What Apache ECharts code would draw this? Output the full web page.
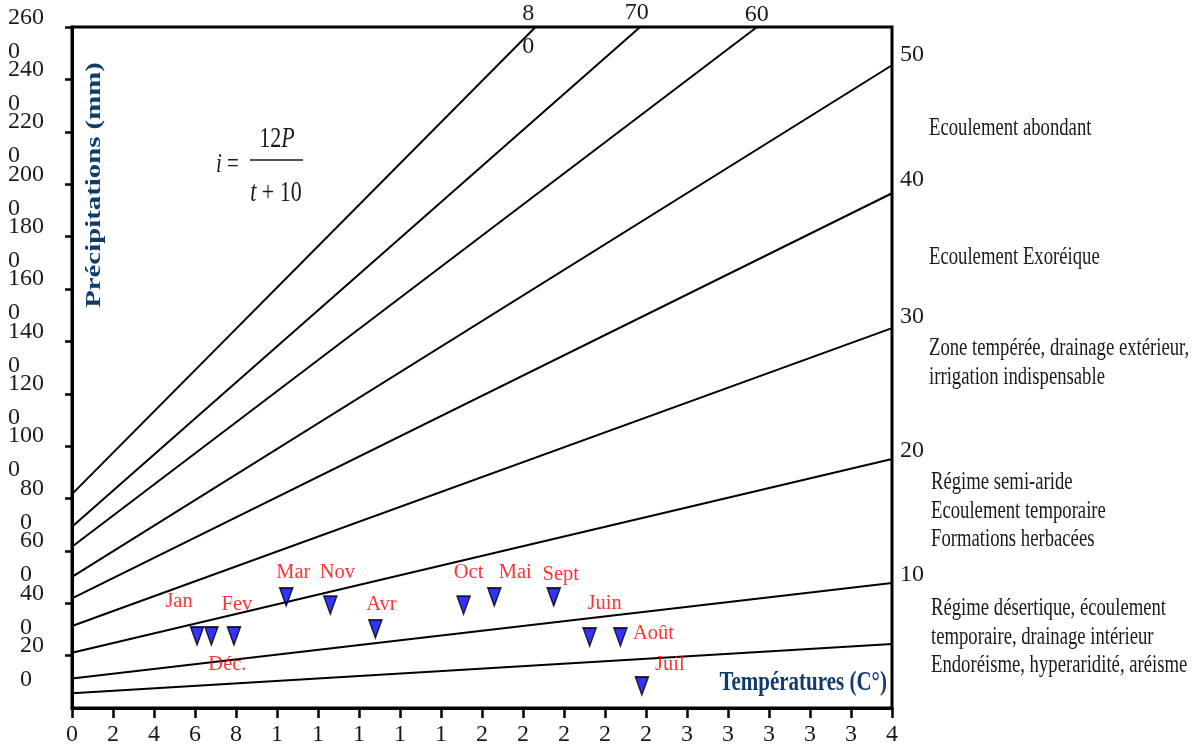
<!DOCTYPE html>
<html>
<head>
<meta charset="utf-8">
<script src="https://cdn.jsdelivr.net/npm/echarts@6.0.0/dist/echarts.min.js"></script>
<style>
html,body{margin:0;padding:0;background:#ffffff;}
#chart{width:1193px;height:751px;}
</style>
</head>
<body>
<div id="chart"></div>
<script>
// ---------- data ----------
const monthNames   = ['Jan', 'Fev', 'Mar', 'Avr', 'Mai', 'Juin', 'Juil', 'Août', 'Sept', 'Oct', 'Nov', 'Déc.'];
const monthTemp    = [6.1, 7.9, 10.45, 14.8, 20.6, 25.25, 27.8, 26.75, 23.5, 19.1, 12.6, 6.8];
const monthPrecip  = [275, 275, 424, 302, 424, 271, 84, 271, 424, 393, 393, 275];

// iso-lines of the index i = 12P/(t+10): start (t = 0) and end points
const isoIndex     = [5, 10, 20, 30, 40, 50, 60, 70, 80];
const isoStartP    = [56, 113, 211, 313, 419, 501, 616, 692, 817];
const isoEndT      = [40, 40, 40, 40, 40, 40, 33.4, 27.7, 22.6];
const isoEndP      = [244, 477, 951, 1451, 1966, 2455, 2600, 2600, 2600];
const isoLabels    = ['', '10', '20', '30', '40', '50', '60', '70', '8\n0'];

const xTickLabels  = ['0','2','4','6','8','1','1','1','1','1','2','2','2','2','2','3','3','3','3','3','4'];
const yTickLabels  = ['', '20\n0', '40\n0', '60\n0', '80\n0', '100\n0', '120\n0', '140\n0', '160\n0', '180\n0', '200\n0', '220\n0', '240\n0', '260\n0'];

const zoneTexts = [
  ['Ecoulement abondant'],
  ['Ecoulement Exoréique'],
  ['Zone tempérée, drainage extérieur,', 'irrigation indispensable'],
  ['Régime semi-aride', 'Ecoulement temporaire', 'Formations herbacées'],
  ['Régime désertique, écoulement', 'temporaire, drainage intérieur', 'Endoréisme, hyperaridité, aréisme']
];
const yTitle = 'Précipitations (mm)';
const xTitle = 'Températures (C°)';

// ---------- layout / style (not data) ----------
const FONT = "'Liberation Serif', 'Times New Roman', serif";
const monthLabelOffsets = [[-18,-34],[3,-31],[7,-24],[6,-24],[21,-24],[15,-33],[28,-21],[33,-3],[7,-22],[5,-32],[7,-32],[16,29]];
const isoLabelOffsets = [[20,-10],[20,-8],[20,-8],[20,-11],[20,-14],[20,-11],[0,-13],[-3,-15],[-7,3]];
const zoneTop = [[929,129],[929,258],[929,349],[931,483],[931,609]];
const zoneLineGap = 28.5;

const chart = echarts.init(document.getElementById('chart'), null, {renderer: 'canvas'});

const series = [];
isoIndex.forEach((idx, k) => {
  series.push({
    type: 'line',
    name: 'i=' + idx,
    silent: true,
    animation: false,
    symbol: 'circle',
    symbolSize: 1,
    showSymbol: true,
    clip: true,
    lineStyle: {color: '#000', width: 2},
    itemStyle: {color: '#000'},
    z: 2,
    data: [
      {value: [0, isoStartP[k]], label: {show: false}},
      {value: [isoEndT[k], isoEndP[k]], label: {
        show: isoLabels[k] !== '',
        formatter: isoLabels[k],
        position: 'inside',
        offset: isoLabelOffsets[k],
        color: '#1a1a1a',
        fontFamily: FONT,
        fontSize: 24,
        lineHeight: 33
      }}
    ]
  });
});

series.push({
  type: 'scatter',
  name: 'mois',
  animation: false,
  symbol: 'triangle',
  symbolRotate: 180,
  symbolSize: [13, 18],
  itemStyle: {color: '#0000ff', borderColor: '#000', borderWidth: 1.6},
  z: 5,
  label: {
    show: true,
    formatter: '{b}',
    position: 'inside',
    color: '#ff0000',
    fontFamily: FONT,
    fontSize: 20.5
  },
  data: monthNames.map((m, k) => ({
    name: m,
    value: [monthTemp[k], monthPrecip[k]],
    label: {offset: monthLabelOffsets[k]}
  }))
});

const graphics = [];
zoneTexts.forEach((lines, b) => {
  lines.forEach((line, j) => {
    graphics.push({
      type: 'text',
      x: zoneTop[b][0],
      y: zoneTop[b][1] + j * zoneLineGap,
      scaleY: 1.32,
      style: {
        text: line,
        fill: '#1a1a1a',
        fontFamily: FONT,
        fontSize: 18.7,
        align: 'left', textAlign: 'left',
        verticalAlign: 'middle', textVerticalAlign: 'middle'
      }
    });
  });
});
// axis titles
graphics.push({
  type: 'text', x: 94, y: 185, rotation: Math.PI / 2, scaleX: 1.34,
  style: {text: yTitle, fill: '#103b6c', fontFamily: FONT, fontWeight: 'bold', fontSize: 21.5,
    align: 'center', textAlign: 'center', verticalAlign: 'middle', textVerticalAlign: 'middle'}
});
graphics.push({
  type: 'text', x: 887, y: 683, scaleY: 1.3,
  style: {text: xTitle, fill: '#103b6c', fontFamily: FONT, fontWeight: 'bold', fontSize: 21,
    align: 'right', textAlign: 'right', verticalAlign: 'middle', textVerticalAlign: 'middle'}
});
// formula i = 12P / (t + 10)
graphics.push({
  type: 'text', x: 216, y: 165, scaleY: 1.3,
  style: {text: '{v|i}{n| =}', fill: '#1a1a1a', align: 'left', textAlign: 'left', verticalAlign: 'middle', textVerticalAlign: 'middle',
    rich: {v: {fontFamily: FONT, fontStyle: 'italic', fontSize: 21, fill: '#1a1a1a'}, n: {fontFamily: FONT, fontSize: 21, fill: '#1a1a1a'}}}
});
graphics.push({
  type: 'text', x: 277, y: 139, scaleY: 1.3,
  style: {text: '{n|12}{v|P}', fill: '#1a1a1a', align: 'center', textAlign: 'center', verticalAlign: 'middle', textVerticalAlign: 'middle',
    rich: {v: {fontFamily: FONT, fontStyle: 'italic', fontSize: 22, fill: '#1a1a1a'}, n: {fontFamily: FONT, fontSize: 22, fill: '#1a1a1a'}}}
});
graphics.push({
  type: 'line', shape: {x1: 250, y1: 160, x2: 303, y2: 160}, style: {stroke: '#1a1a1a', lineWidth: 1.5}
});
graphics.push({
  type: 'text', x: 276, y: 193, scaleY: 1.3,
  style: {text: '{v|t}{n| + 10}', fill: '#1a1a1a', align: 'center', textAlign: 'center', verticalAlign: 'middle', textVerticalAlign: 'middle',
    rich: {v: {fontFamily: FONT, fontStyle: 'italic', fontSize: 22, fill: '#1a1a1a'}, n: {fontFamily: FONT, fontSize: 22, fill: '#1a1a1a'}}}
});

function yLabel(v) {
  if (Math.abs(v % 200) > 1e-6) return '';
  const s = yTickLabels[Math.round(v / 200)] || '';
  if (!s) return '';
  const parts = s.split('\n');
  const pad = '\u00a0'.repeat(2 * (parts[0].length - parts[1].length));
  return '{c|\u00a0}\n{a|' + parts[0] + '}\n{a|' + parts[1] + pad + '}';
}

const option = {
  backgroundColor: '#ffffff',
  animation: false,
  grid: {
    left: 72, right: 301, top: 27, bottom: 43,
    show: true, borderColor: '#000', borderWidth: 3,
    containLabel: false, outerBoundsMode: 'none'
  },
  xAxis: {
    type: 'value', min: 0, max: 40, interval: 2,
    axisLine: {show: true, onZero: false, lineStyle: {color: '#000', width: 3}},
    axisTick: {show: true, inside: false, length: 10, lineStyle: {color: '#000', width: 2.5}},
    splitLine: {show: false},
    axisLabel: {
      margin: 15, color: '#1a1a1a', fontFamily: FONT, fontSize: 24,
      showMinLabel: true, showMaxLabel: true, hideOverlap: false,
      formatter: (v) => xTickLabels[Math.round(v / 2)] || ''
    }
  },
  yAxis: {
    type: 'value', min: 0, max: 2601, interval: 200,
    splitLine: {show: false},
    axisLine: {show: true, onZero: false, lineStyle: {color: '#000', width: 3}},
    axisTick: {show: true, inside: false, length: 7, lineStyle: {color: '#000', width: 2.5}},
    axisLabel: {
      margin: 28, color: '#1a1a1a', fontFamily: FONT, fontSize: 24,
      align: 'right', verticalAlign: 'middle',
      showMinLabel: false, showMaxLabel: false, hideOverlap: false,
      formatter: yLabel,
      rich: {
        a: {fontFamily: FONT, fontSize: 24, lineHeight: 34, color: '#1a1a1a'},
        c: {fontFamily: FONT, fontSize: 10, lineHeight: 14, color: '#1a1a1a'}
      }
    }
  },
  graphic: {elements: graphics},
  series: series
};
chart.setOption(option);
</script>
</body>
</html>
